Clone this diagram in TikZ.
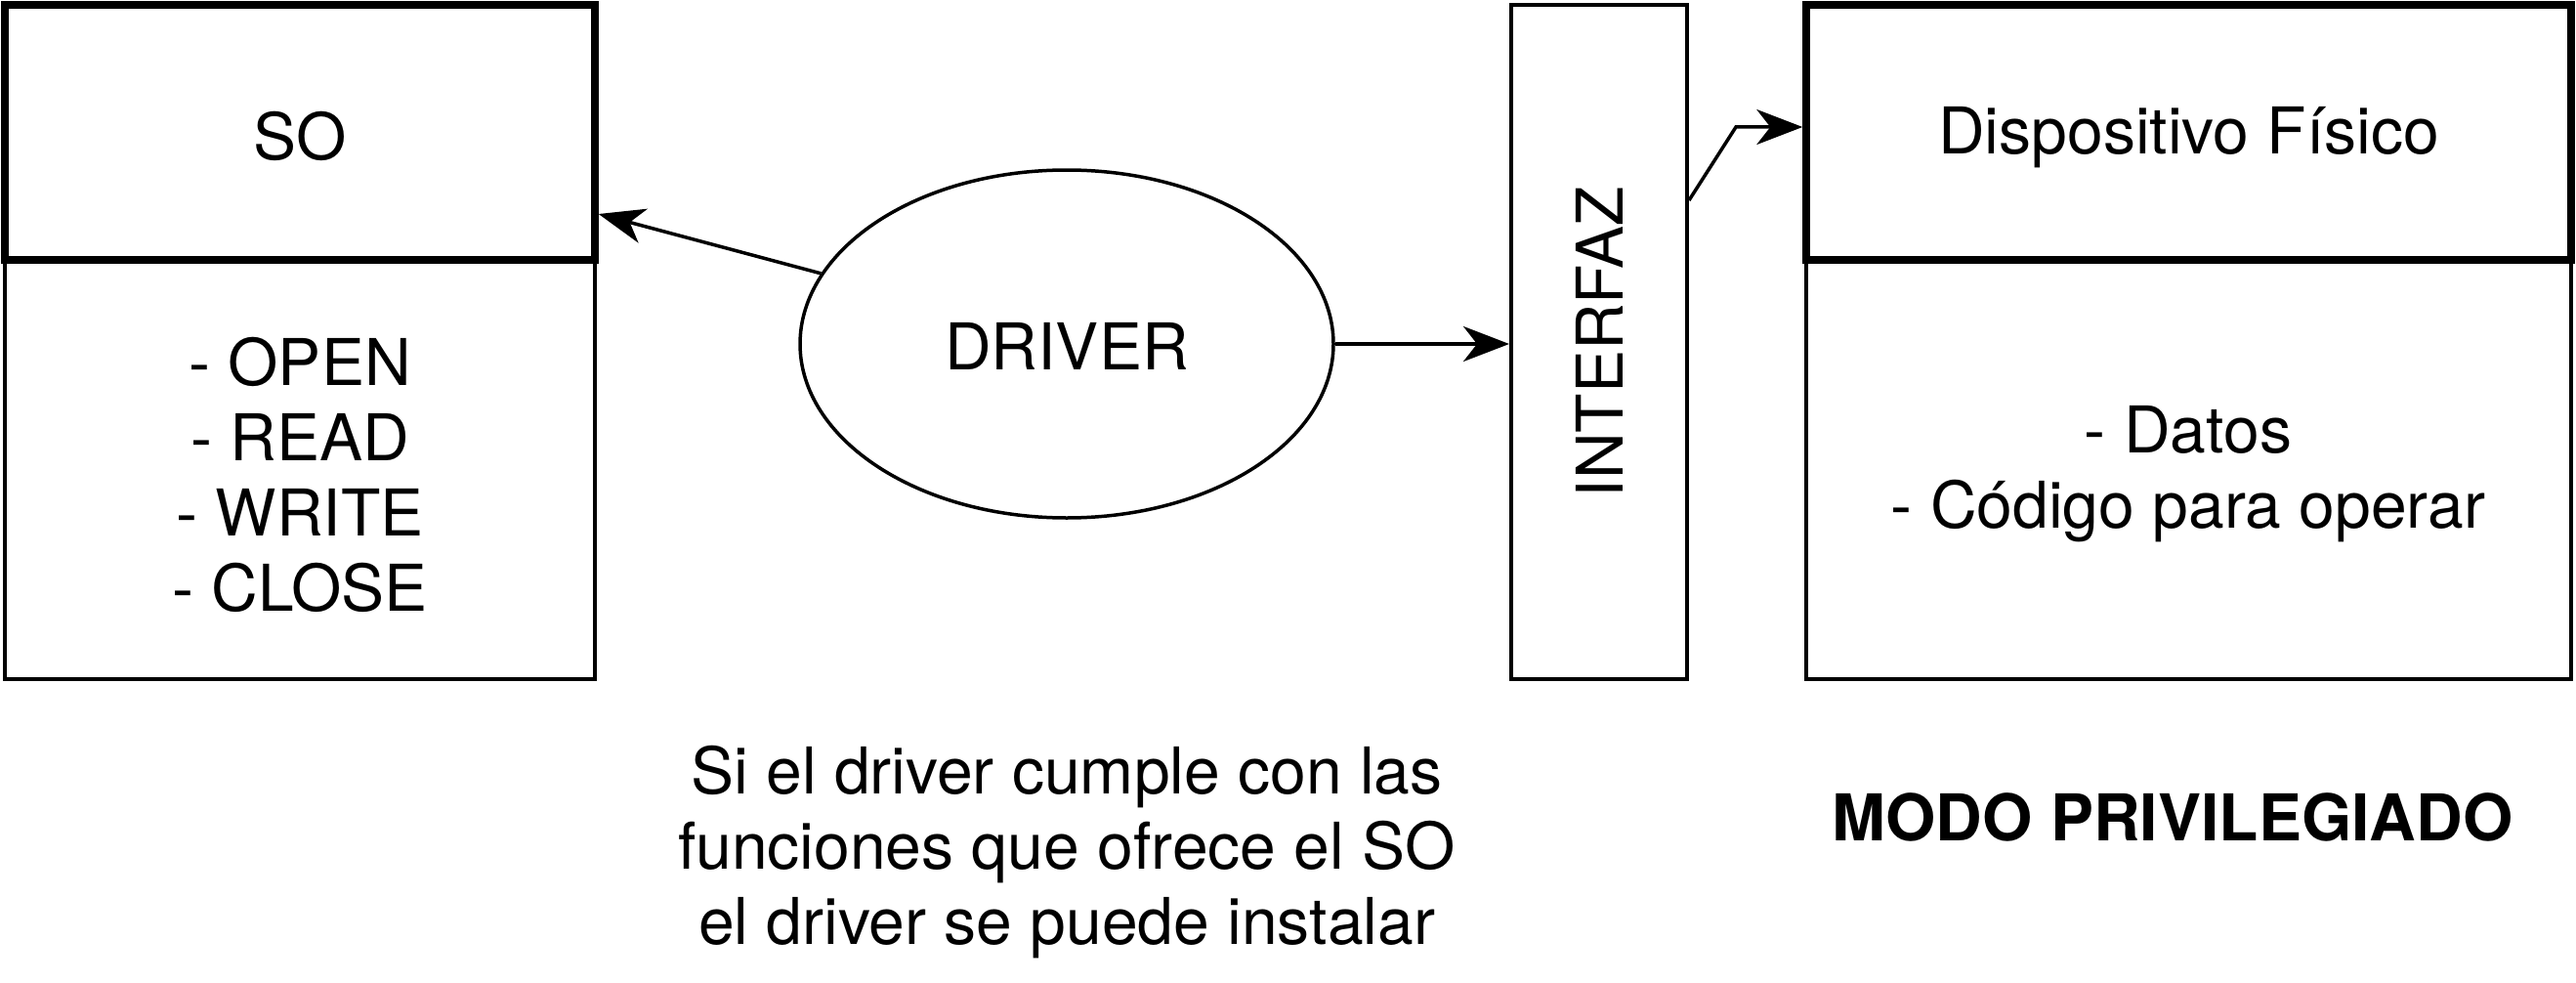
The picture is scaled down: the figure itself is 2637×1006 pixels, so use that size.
\documentclass[tikz,border=0pt]{standalone}
\usepackage{fontspec}
\setmainfont{TeX Gyre Heros}
\usetikzlibrary{shapes.geometric,arrows.meta}
\begin{document}
\begin{tikzpicture}[x=1pt,y=-1pt,
  txt/.style={font=\fontsize{66}{77}\selectfont, align=center, inner sep=0pt},
  thin box/.style={draw, line width=4pt, inner sep=0pt},
  thick box/.style={draw, line width=7.5pt, inner sep=0pt},
  arr/.style={line width=3.5pt, -{Stealth[length=47pt,width=36pt,inset=14pt]}}]
\path[use as bounding box] (0,0) rectangle (2637,1006);
% SO
\node[thin box, minimum width=604pt, minimum height=429pt] (sob) at (307,480.5) {};
\node[thick box, minimum width=604pt, minimum height=261pt] (soh) at (307,135.5) {};
\node[txt] (sot) at ([yshift=-4pt]soh.center) {SO};
\node[txt] (sol) at (307,486) {- OPEN\\- READ\\- WRITE\\- CLOSE};
% Driver
\node[ellipse, draw, line width=3.5pt, minimum width=546pt, minimum height=356pt, inner sep=0pt] (drv) at (1092,352) {};
\node[txt] (drvt) at ([yshift=-2pt]drv.center) {DRIVER};
% Interfaz
\node[thin box, minimum width=180pt, minimum height=690pt] (ifz) at (1637,350) {};
\node[txt, rotate=90] (ifzt) at (ifz.center) {INTERFAZ};
% Dispositivo
\node[thin box, minimum width=783pt, minimum height=429pt] (dpb) at (2240.5,480.5) {};
\node[thick box, minimum width=783pt, minimum height=261pt] (dph) at (2240.5,135.5) {};
\node[txt] (dpt) at ([yshift=-5pt]dph.center) {Dispositivo Físico};
\node[txt] (dpl) at (2240,485) {- Datos\\- Código para operar};
% bottom texts
\node[txt] (note) at (1092,872) {Si el driver cumple con las\\funciones que ofrece el SO\\el driver se puede instalar};
\node[txt, font=\fontsize{66}{77}\selectfont\bfseries] (modo) at (2224,836) {MODO PRIVILEGIADO};
% arrows
\draw[arr] (drv.164) -- ([yshift=-83.5pt]soh.east);
\draw[arr] (drv.east) -- (ifz.west |- drv.east);
\draw[arr, line join=miter] ([yshift=145pt]ifz.east) -- ++(48,-75) -- ([yshift=5.5pt]dph.west);
\end{tikzpicture}
\end{document}
